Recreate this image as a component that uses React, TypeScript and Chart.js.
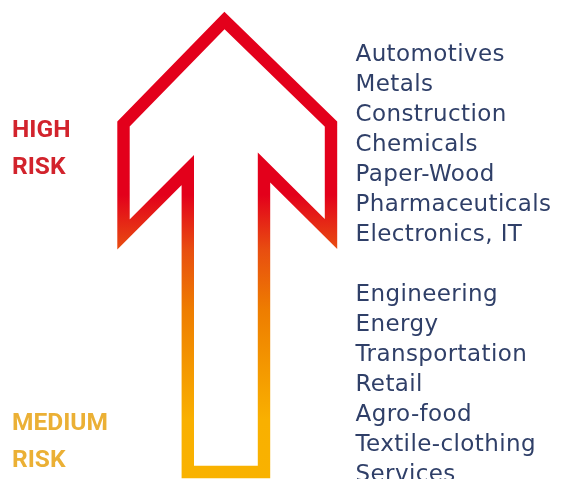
import { useEffect, useRef } from "react";
import { Chart, registerables } from "chart.js";

Chart.register(...registerables);

// Arrow outline vertices (centre line of the stroke), in picture units
const arrowX = [226, 264, 264, 331, 331, 224.5, 123.5, 123.5, 187.8, 187.8, 232];
const arrowY = [472, 472, 167.5, 234, 124, 20.5, 124, 234.5, 170, 472, 472];

// Vertical colour gradient of the arrow
const gradientStopY = [0, 195, 250, 310, 420, 479];
const gradientStopColor = ["#E3001B", "#E3001B", "#E84E10", "#EE7D00", "#F9B000", "#F9B200"];

// Risk level labels
const riskLabels = [
  ["HIGH", "RISK"],
  ["MEDIUM", "RISK"],
];
const riskLabelY = [137, 430];
const riskLabelColor = ["#D2232C", "#EBB035"];

// Sectors
const highRiskSectors = [
  "Automotives",
  "Metals",
  "Construction",
  "Chemicals",
  "Paper-Wood",
  "Pharmaceuticals",
  "Electronics, IT",
];
const mediumRiskSectors = [
  "Engineering",
  "Energy",
  "Transportation",
  "Retail",
  "Agro-food",
  "Textile-clothing",
  "Services",
];
const sectorGroupY = [61, 301];

const X_MAX = 565;
const Y_MAX = 479;

const labelPlugin = {
  id: "riskLabels",
  afterDatasetsDraw(chart: any) {
    const { ctx, scales } = chart;
    const xs = scales.x;
    const ys = scales.y;
    ctx.save();
    ctx.textAlign = "left";
    ctx.textBaseline = "alphabetic";

    // Risk labels
    ctx.font = "bold 24.5px Roboto";
    try { (ctx as any).letterSpacing = "0px"; } catch (e) {}
    riskLabels.forEach((lines, i) => {
      ctx.fillStyle = riskLabelColor[i];
      lines.forEach((t, j) => {
        ctx.fillText(t, xs.getPixelForValue(12), ys.getPixelForValue(riskLabelY[i] + j * 37));
      });
    });

    // Sector lists
    ctx.font = "23px 'DejaVu Sans'";
    try { (ctx as any).letterSpacing = "0.4px"; } catch (e) {}
    ctx.fillStyle = "#2F3F68";
    [highRiskSectors, mediumRiskSectors].forEach((group, g) => {
      group.forEach((t, j) => {
        ctx.fillText(t, xs.getPixelForValue(355.5), ys.getPixelForValue(sectorGroupY[g] + j * 30));
      });
    });
    ctx.restore();
  },
};

export default function App() {
  const ref = useRef<HTMLCanvasElement | null>(null);

  useEffect(() => {
    document.body.style.margin = "0";
    const canvas = ref.current;
    if (!canvas) return;
    const chart = new Chart(canvas, {
      type: "scatter",
      data: {
        datasets: [
          {
            data: arrowX.map((x, i) => ({ x, y: arrowY[i] })),
            showLine: true,
            fill: false,
            tension: 0,
            pointRadius: 0,
            pointHoverRadius: 0,
            borderWidth: 12.4,
            borderJoinStyle: "miter",
            borderCapStyle: "butt",
            clip: false as any,
            borderColor: (context: any) => {
              const c = context.chart;
              const ys = c.scales && c.scales.y;
              if (!c.chartArea || !ys) return gradientStopColor[0];
              const top = ys.getPixelForValue(0);
              const bottom = ys.getPixelForValue(Y_MAX);
              const g = c.ctx.createLinearGradient(0, top, 0, bottom);
              gradientStopY.forEach((v, i) => g.addColorStop(v / Y_MAX, gradientStopColor[i]));
              return g;
            },
          },
        ],
      },
      options: {
        animation: false,
        responsive: true,
        maintainAspectRatio: false,
        layout: { padding: 0 },
        events: [],
        plugins: { legend: { display: false }, tooltip: { enabled: false } },
        scales: {
          x: { type: "linear", min: 0, max: X_MAX, display: false },
          y: { type: "linear", min: 0, max: Y_MAX, reverse: true, display: false },
        },
      },
      plugins: [labelPlugin],
    });
    return () => chart.destroy();
  }, []);

  return (
    <div style={{ position: "relative", width: 565, height: 479, background: "#ffffff" }}>
      <canvas ref={ref} />
    </div>
  );
}
